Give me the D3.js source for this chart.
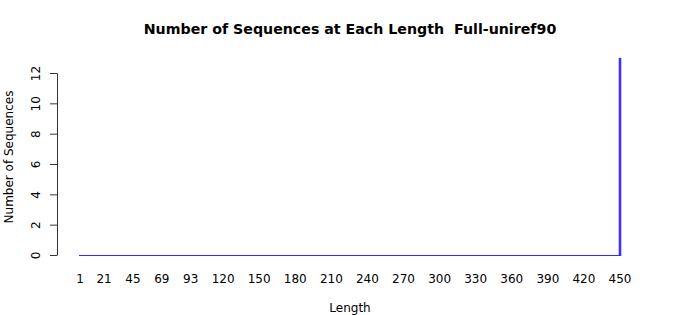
<!DOCTYPE html>
<html>
<head>
    <script src="https://d3js.org/d3.v7.min.js"></script>
    <style>
        body {margin: 0; background: white; font-family: "DejaVu Sans", sans-serif;}
        svg {display: block;}
        .title {white-space: pre;}
    </style>
</head>
<body>
    <svg width="700" height="315"></svg>
    <script>
        // lengths 1..450, only one length actually has sequences
        let lengths = d3.range(1, 451);
        let nonzeroLengths = [450];
        let nonzeroCounts = [13];
        let xTickLabels = [1, 21, 45, 69, 93, 120, 150, 180, 210, 240, 270, 300, 330, 360, 390, 420, 450];
        let yTicks = [0, 2, 4, 6, 8, 10, 12];

        let counts = lengths.map(l => {
            let k = nonzeroLengths.indexOf(l);
            return k < 0 ? 0 : nonzeroCounts[k];
        });
        let bars = lengths.map((l, i) => ({len: l, count: counts[i]}));

        let svg = d3.select("svg");

        let x = d3.scaleBand()
            .domain(lengths)
            .range([79.4, 620.6])
            .paddingInner(0.2)
            .paddingOuter(0.1);

        let y = d3.scaleLinear()
            .domain([0, 12])
            .range([255, 73]);

        let barStroke = "#2d2dff";

        // zero-count bars still get their border drawn, giving a flat line
        svg.append("g")
            .attr("shape-rendering", "crispEdges")
            .selectAll("line")
            .data(bars.filter(d => d.count === 0))
            .enter().append("line")
            .attr("x1", d => x(d.len) - 0.5)
            .attr("x2", d => x(d.len) + x.bandwidth() + 0.5)
            .attr("y1", y(0) + 0.5)
            .attr("y2", y(0) + 0.5)
            .attr("stroke", barStroke)
            .attr("stroke-width", 1);

        svg.append("g")
            .selectAll("rect")
            .data(bars.filter(d => d.count > 0))
            .enter().append("rect")
            .attr("x", d => x(d.len) - 0.3)
            .attr("y", d => y(d.count) + 0.5)
            .attr("width", x.bandwidth() + 0.6)
            .attr("height", d => y(0) - y(d.count))
            .attr("fill", "#5a00d6")
            .attr("stroke", barStroke)
            .attr("stroke-width", 1);

        // y axis
        let yAxis = svg.append("g")
            .attr("transform", "translate(57,0)")
            .call(d3.axisLeft(y).tickValues(yTicks).tickSize(7).tickSizeOuter(0));
        yAxis.select(".domain").attr("stroke", "#333");
        yAxis.selectAll(".tick line").attr("stroke", "#333");
        yAxis.selectAll(".tick text")
            .attr("font-size", 12)
            .attr("font-family", "DejaVu Sans")
            .attr("fill", "#000")
            .attr("x", null)
            .attr("text-anchor", "middle")
            .attr("transform", "translate(-21,0) rotate(-90)")
            .attr("dy", "0.35em");

        // x tick labels (no axis line in the original)
        svg.append("g")
            .selectAll("text")
            .data(xTickLabels)
            .enter().append("text")
            .attr("x", d => x(d) + x.bandwidth() / 2)
            .attr("y", 283)
            .attr("text-anchor", "middle")
            .attr("font-size", 12)
            .attr("fill", "#000")
            .text(d => d);

        svg.append("text")
            .attr("class", "title")
            .attr("x", 350)
            .attr("y", 34)
            .attr("text-anchor", "middle")
            .attr("font-size", 14.2)
            .attr("font-weight", "bold")
            .text("Number of Sequences at Each Length  Full-uniref90");

        svg.append("text")
            .attr("x", 350)
            .attr("y", 312)
            .attr("text-anchor", "middle")
            .attr("font-size", 12)
            .text("Length");

        svg.append("text")
            .attr("transform", "translate(13,157) rotate(-90)")
            .attr("text-anchor", "middle")
            .attr("font-size", 12)
            .text("Number of Sequences");
    </script>
</body>
</html>
